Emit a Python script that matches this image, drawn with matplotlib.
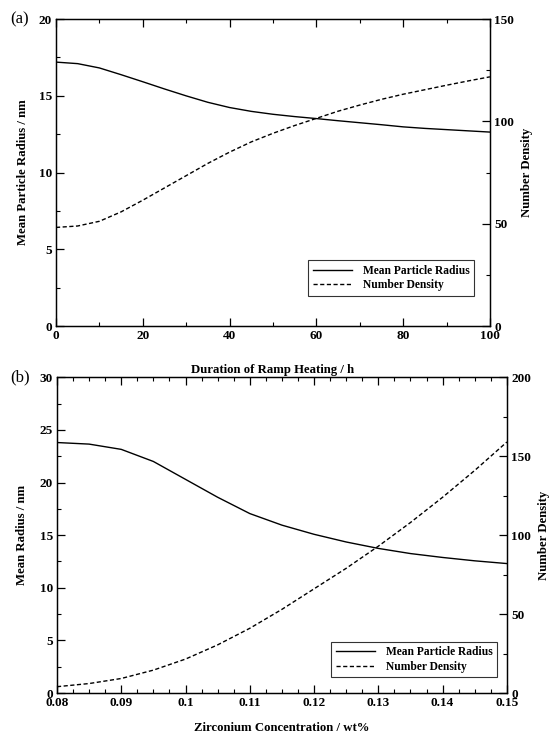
import numpy as np
import matplotlib
matplotlib.use("Agg")
import matplotlib.pyplot as plt
from matplotlib.ticker import MultipleLocator

plt.rcParams['font.family'] = ['Liberation Serif', 'DejaVu Serif']
plt.rcParams['font.weight'] = 'bold'
plt.rcParams['axes.labelweight'] = 'bold'

# (a) ramp heating duration
ramp_hours = [0, 5, 10, 15, 20, 25, 30, 35, 40, 45, 50, 55, 60, 65, 70, 75, 80, 85, 90, 95, 100]
ramp_radius = [17.2, 17.1, 16.82, 16.38, 15.92, 15.45, 15.0, 14.58, 14.24, 13.99, 13.8, 13.65,
               13.52, 13.38, 13.25, 13.12, 12.98, 12.88, 12.8, 12.72, 12.64]
ramp_density = [48.2, 48.9, 51.2, 55.8, 61.5, 67.5, 73.5, 79.5, 85.0, 90.0, 94.2, 98.0,
                101.5, 105.0, 108.0, 110.8, 113.3, 115.5, 117.7, 119.8, 121.8]

# (b) zirconium concentration
zr_conc = [0.08, 0.085, 0.09, 0.095, 0.1, 0.105, 0.11, 0.115, 0.12, 0.125, 0.13, 0.135, 0.14, 0.145, 0.15]
zr_radius = [23.8, 23.65, 23.15, 22.0, 20.3, 18.6, 17.05, 15.95, 15.08, 14.35, 13.74, 13.25, 12.88, 12.56, 12.3]
zr_density = [4.0, 6.0, 9.2, 14.5, 21.5, 30.5, 41.0, 53.0, 66.0, 79.0, 93.0, 108.0, 124.0, 141.0, 159.0]
zr_ticks = [0.08, 0.09, 0.10, 0.11, 0.12, 0.13, 0.14, 0.15]
zr_ticklabels = ['0.08', '0.09', '0.1', '0.11', '0.12', '0.13', '0.14', '0.15']

TICK_FS = 9.5
LABEL_FS = 9.2
LEGEND_FS = 8.3
DASH = (0, (3, 1.8))


def style_axes(ax, right=False):
    for s in ax.spines.values():
        s.set_linewidth(0.9)
    ax.tick_params(which='major', direction='in', length=6, width=0.9, labelsize=TICK_FS, pad=3)
    ax.tick_params(which='minor', direction='in', length=3, width=0.8)
    if right:
        ax.tick_params(which='both', left=False, right=True)
    else:
        ax.tick_params(which='both', top=True, right=False)


def add_legend(ax, handles, anchor):
    leg = ax.legend(handles=handles, loc='lower right', bbox_to_anchor=anchor, fontsize=LEGEND_FS,
                    frameon=True, fancybox=False, edgecolor='black', handlelength=3.4,
                    borderpad=0.4, labelspacing=0.2, handletextpad=0.9, borderaxespad=0)
    leg.get_frame().set_linewidth(0.8)


fig = plt.figure(figsize=(5.5, 7.36), dpi=100)

# ---- panel (a)
ax1 = fig.add_axes([0.1018, 0.557, 0.789, 0.417])
ax1b = ax1.twinx()
l1, = ax1.plot(ramp_hours, ramp_radius, color='black', lw=1.0, label='Mean Particle Radius')
l2, = ax1b.plot(ramp_hours, ramp_density, color='black', lw=1.0, ls=DASH, label='Number Density')
ax1.set_xlim(0, 100)
ax1.set_ylim(0, 20)
ax1b.set_ylim(0, 150)
ax1.xaxis.set_major_locator(MultipleLocator(20))
ax1.xaxis.set_minor_locator(MultipleLocator(10))
ax1.yaxis.set_major_locator(MultipleLocator(5))
ax1.yaxis.set_minor_locator(MultipleLocator(2.5))
ax1b.yaxis.set_major_locator(MultipleLocator(50))
ax1b.yaxis.set_minor_locator(MultipleLocator(25))
style_axes(ax1)
style_axes(ax1b, right=True)
ax1.set_xlabel('Duration of Ramp Heating / h', fontsize=LABEL_FS, labelpad=16)
ax1.set_ylabel('Mean Particle Radius / nm', fontsize=LABEL_FS, labelpad=7)
ax1b.set_ylabel('Number Density', fontsize=LABEL_FS, labelpad=5)
add_legend(ax1b, [l1, l2], (0.963, 0.098))
fig.text(0.018, 0.974, '(a)', fontsize=12, fontweight='normal', va='center')

# ---- panel (b)
ax2 = fig.add_axes([0.1036, 0.0584, 0.818, 0.429])
ax2b = ax2.twinx()
m1, = ax2.plot(zr_conc, zr_radius, color='black', lw=1.0, label='Mean Particle Radius')
m2, = ax2b.plot(zr_conc, zr_density, color='black', lw=1.0, ls=DASH, label='Number Density')
ax2.set_xlim(0.08, 0.15)
ax2.set_ylim(0, 30)
ax2b.set_ylim(0, 200)
ax2.set_xticks(zr_ticks)
ax2.set_xticklabels(zr_ticklabels)
ax2.xaxis.set_minor_locator(MultipleLocator(0.0025))
ax2.yaxis.set_major_locator(MultipleLocator(5))
ax2.yaxis.set_minor_locator(MultipleLocator(2.5))
ax2b.yaxis.set_major_locator(MultipleLocator(50))
ax2b.yaxis.set_minor_locator(MultipleLocator(25))
style_axes(ax2)
style_axes(ax2b, right=True)
ax2.set_xlabel('Zirconium Concentration / wt%', fontsize=LABEL_FS, labelpad=9)
ax2.set_ylabel('Mean Radius / nm', fontsize=LABEL_FS, labelpad=8)
ax2b.set_ylabel('Number Density', fontsize=LABEL_FS, labelpad=5)
add_legend(ax2b, [m1, m2], (0.978, 0.05))
fig.text(0.018, 0.487, '(b)', fontsize=12, fontweight='normal', va='center')

fig.savefig('out.png', dpi=100)
